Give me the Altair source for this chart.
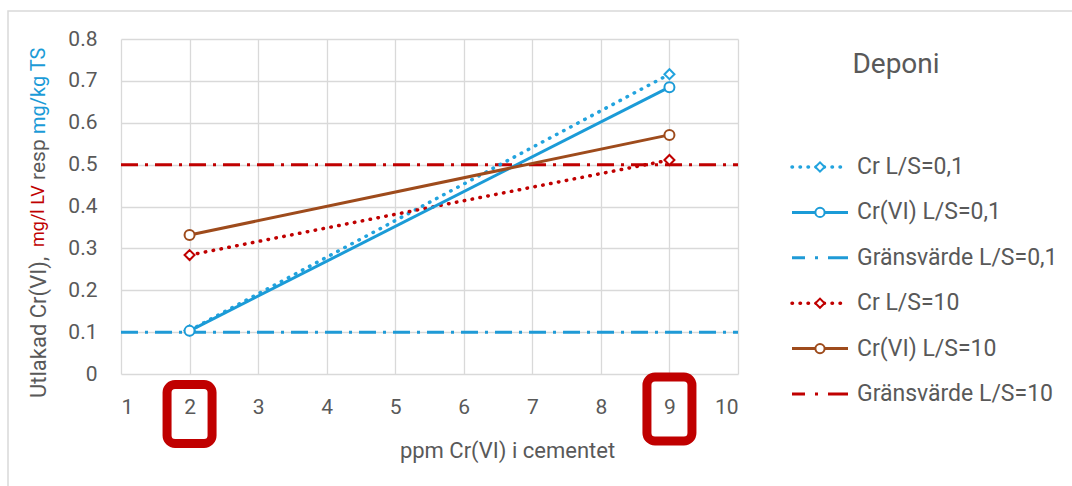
import altair as alt
import pandas as pd

# ---------------- data ----------------
series = ["Cr L/S=0,1", "Cr(VI) L/S=0,1", "Gränsvärde L/S=0,1",
          "Cr L/S=10", "Cr(VI) L/S=10", "Gränsvärde L/S=10"]
colors = ["#22A3DE", "#1B9BD7", "#1F9AD6", "#C00000", "#9E4B1C", "#C00000"]

x_pts = [2, 9]
cr_01 = [0.104, 0.716]
crvi_01 = [0.103, 0.685]
cr_10 = [0.284, 0.511]
crvi_10 = [0.332, 0.571]

thr_x = [1, 10]
thr_01 = [0.1, 0.1]
thr_10 = [0.5, 0.5]

x_ticks = [1, 2, 3, 4, 5, 6, 7, 8, 9, 10]
y_ticks = [0, 0.1, 0.2, 0.3, 0.4, 0.5, 0.6, 0.7, 0.8]
highlight_ticks = [2, 9]

x_title = "ppm Cr(VI) i cementet"
legend_title = "Deponi"
y_title_parts = ["Utlakad Cr(VI),", "mg/l LV", "resp", "mg/kg TS"]
y_title_colors = ["#595959", "#C00000", "#595959", "#1B9BD7"]

# ---------------- tables ----------------
rows = []
for s, ys in [(series[0], cr_01), (series[1], crvi_01), (series[3], cr_10), (series[4], crvi_10)]:
    for xv, yv in zip(x_pts, ys):
        rows.append({"x": xv, "y": yv, "series": s})
pts = pd.DataFrame(rows)

trows = []
for s, ys in [(series[2], thr_01), (series[5], thr_10)]:
    for xv, yv in zip(thr_x, ys):
        trows.append({"x": xv, "y": yv, "series": s})
thr = pd.DataFrame(trows)

leg = pd.DataFrame({"series": series, "idx": list(range(len(series)))})

FONT = "Roboto"
GRAY = "#595959"
W, H = 617, 335

color = alt.Color("series:N", scale=alt.Scale(domain=series, range=colors), legend=None)
stroke_enc = alt.Stroke("series:N", scale=alt.Scale(domain=series, range=colors), legend=None)

xs = alt.X("x:Q", scale=alt.Scale(domain=[1, 10], nice=False),
           axis=alt.Axis(values=x_ticks, format="d", title=x_title,
                         grid=True, gridColor="#D9D9D9", gridWidth=1.3,
                         domain=False, ticks=False, labelPadding=22,
                         labelFontSize=21, labelColor=GRAY, labelFont=FONT,
                         titleFontSize=22, titleColor=GRAY, titleFont=FONT,
                         titleFontWeight="normal", titleX=386, titleY=66,
                         titleAlign="center"))
ys = alt.Y("y:Q", scale=alt.Scale(domain=[0, 0.8], nice=False),
           axis=alt.Axis(values=y_ticks, format=".1~f", title=None,
                         grid=True, gridColor="#D9D9D9", gridWidth=1.3,
                         domain=False, ticks=False, labelPadding=24,
                         labelFontSize=21, labelColor=GRAY, labelFont=FONT))

base_pts = alt.Chart(pts)
base_thr = alt.Chart(thr)

def only(names):
    return alt.FieldOneOfPredicate(field="series", oneOf=names)

dotted = base_pts.transform_filter(only([series[0], series[3]])).mark_line(
    strokeWidth=3.5, strokeDash=[0.5, 7.5], strokeCap="round").encode(x=xs, y=ys, color=color)
solid = base_pts.transform_filter(only([series[1], series[4]])).mark_line(
    strokeWidth=3).encode(x=xs, y=ys, color=color)
dashdot = base_thr.mark_line(strokeWidth=3, strokeDash=[17, 7, 3, 7]).encode(
    x=xs, y=ys, color=color)

diamonds = base_pts.transform_filter(only([series[0], series[3]])).mark_point(
    shape="diamond", size=100, filled=True, fill="white", strokeWidth=2, opacity=1).encode(
    x=xs, y=ys, stroke=stroke_enc)
circles = base_pts.transform_filter(only([series[1], series[4]])).mark_point(
    shape="circle", size=100, filled=True, fill="white", strokeWidth=2, opacity=1).encode(
    x=xs, y=ys, stroke=stroke_enc)

# highlight boxes around tick labels 2 and 9
hl = pd.DataFrame({"x": highlight_ticks})
box2 = alt.Chart(hl).transform_filter(alt.datum.x == highlight_ticks[0]).mark_rect(
    width=45, height=59, cornerRadius=8, fillOpacity=0, stroke="#C00000", strokeWidth=9
).encode(x=alt.X("x:Q"), y=alt.value(375))
box9 = alt.Chart(hl).transform_filter(alt.datum.x == highlight_ticks[1]).mark_rect(
    width=45, height=64, cornerRadius=8, fillOpacity=0, stroke="#C00000", strokeWidth=9
).encode(x=alt.X("x:Q"), y=alt.value(370))

# outer chart border
border = alt.Chart(pd.DataFrame({"k": [0]})).mark_rect(
    fillOpacity=0, stroke="#D9D9D9", strokeWidth=1.5
).encode(x=alt.value(-113), x2=alt.value(1000), y=alt.value(-28), y2=alt.value(460))

# y-axis title (multi-coloured)
y_starts = [359, 208, 141, 95]
y_sizes = [22, 18, 21, 20]
ytitle_layers = []
for txt, col, ystart, fs in zip(y_title_parts, y_title_colors, y_starts, y_sizes):
    ytitle_layers.append(
        alt.Chart(pd.DataFrame({"t": [txt]})).mark_text(
            angle=270, align="left", baseline="middle", fontSize=fs, font=FONT, color=col
        ).encode(text="t:N", x=alt.value(-82), y=alt.value(ystart))
    )

main = alt.layer(border, dashdot, dotted, solid, diamonds, circles, box2, box9, *ytitle_layers)

# ---------------- legend (own scales) ----------------
unit_x = 56.0
lx0 = 671.0
lxs = alt.Scale(domain=[-lx0 / unit_x, (W - lx0) / unit_x], nice=False, zero=False)
unit_y = 45.4
ly0 = 128.0
lys = alt.Scale(domain=[-ly0 / unit_y, (H - ly0) / unit_y], nice=False, zero=False, reverse=True)

lbase = alt.Chart(leg)
LX = alt.X("a:Q", scale=lxs, axis=None)
LY = alt.Y("idx:Q", scale=lys, axis=None)

l_dot = lbase.transform_filter(only([series[0], series[3]])).transform_calculate(a="0", b="1").mark_rule(
    strokeWidth=3.5, strokeDash=[0.5, 7.5], strokeCap="round").encode(
    x=LX, x2="b:Q", y=LY, color=color)
l_sol = lbase.transform_filter(only([series[1], series[4]])).transform_calculate(a="0", b="1").mark_rule(
    strokeWidth=3).encode(x=LX, x2="b:Q", y=LY, color=color)
l_dd = lbase.transform_filter(only([series[2], series[5]])).transform_calculate(a="0", b="1").mark_rule(
    strokeWidth=3, strokeDash=[13, 10, 3, 10, 20, 100]).encode(x=LX, x2="b:Q", y=LY, color=color)
l_dia = lbase.transform_filter(only([series[0], series[3]])).transform_calculate(a="0.5").mark_point(
    shape="diamond", size=85, filled=True, fill="white", strokeWidth=2, opacity=1).encode(
    x=LX, y=LY, stroke=stroke_enc)
l_cir = lbase.transform_filter(only([series[1], series[4]])).transform_calculate(a="0.5").mark_point(
    shape="circle", size=85, filled=True, fill="white", strokeWidth=2, opacity=1).encode(
    x=LX, y=LY, stroke=stroke_enc)
l_txt = lbase.transform_calculate(a="1.16").mark_text(
    align="left", baseline="middle", fontSize=23, font=FONT, color=GRAY).encode(
    x=LX, y=LY, text="series:N")
l_title = alt.Chart(pd.DataFrame({"t": [legend_title]})).mark_text(
    align="center", baseline="middle", fontSize=28, font=FONT, color=GRAY).encode(
    text="t:N", x=alt.value(775), y=alt.value(26))

legend_layer = alt.layer(l_dot, l_sol, l_dd, l_dia, l_cir, l_txt, l_title)

chart = alt.layer(main, legend_layer).resolve_scale(
    x="independent", y="independent"
).properties(
    width=W, height=H,
    autosize=alt.AutoSizeParams(type="none"),
    padding={"left": 121, "top": 39, "right": 1072 - 121 - W, "bottom": 486 - 39 - H},
    background="white",
).configure_view(stroke=None)

chart.save("out.html", embed_options={"renderer": "svg", "actions": False})
